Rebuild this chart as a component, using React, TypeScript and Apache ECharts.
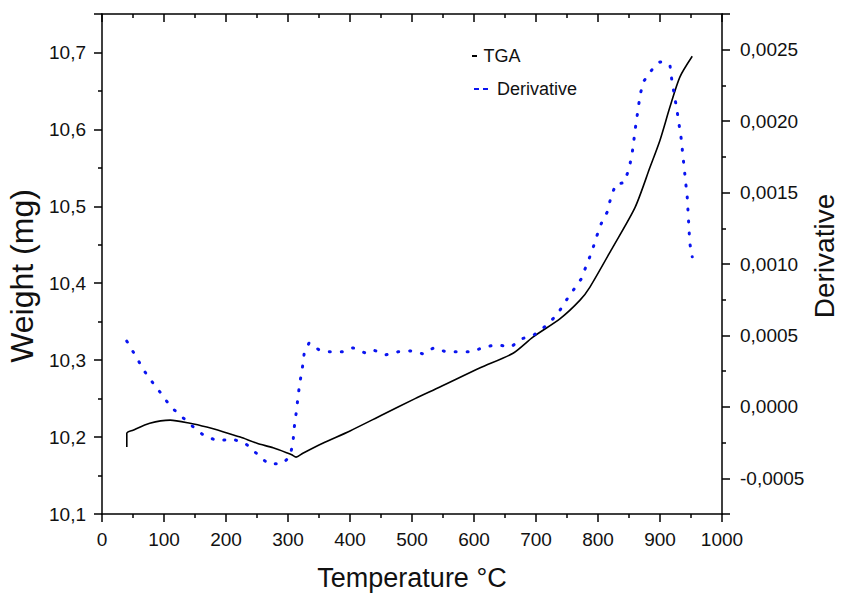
import React, { useEffect, useRef } from "react";
import * as echarts from "echarts";

// TGA curve (temperature °C, weight mg)
const tgaTemp = [40, 40, 50, 77, 110, 142, 169, 195, 223, 250, 276, 300, 306, 313, 324, 356, 400, 450, 505, 545, 610, 663, 695, 739, 771, 787, 824, 860, 884, 900, 916, 932, 952];
const tgaWeight = [10.187, 10.205, 10.209, 10.218, 10.222, 10.218, 10.213, 10.207, 10.2, 10.192, 10.186, 10.179, 10.177, 10.174, 10.179, 10.192, 10.208, 10.228, 10.25, 10.265, 10.29, 10.309, 10.33, 10.354, 10.378, 10.395, 10.447, 10.499, 10.551, 10.586, 10.629, 10.668, 10.695];

// Derivative curve
const derivTemp = [40, 56, 68, 82, 97, 111, 129, 147, 165, 187, 210, 232, 250, 268, 290, 303, 308, 310, 313, 316, 319, 323, 326, 334, 350, 368, 387, 405, 424, 437, 458, 477, 497, 518, 535, 555, 574, 598, 616, 637, 660, 677, 697, 718, 735, 747, 773, 781, 790, 797, 805, 815, 821, 829, 842, 850, 855, 861, 868, 873, 887, 900, 916, 919, 927, 934, 939, 944, 948, 952];
const derivValue = [0.00046, 0.000343, 0.000252, 0.000168, 0.000084, 0.0, -0.00007, -0.00014, -0.000203, -0.000238, -0.000224, -0.000259, -0.000329, -0.000399, -0.000399, -0.00035, -0.000252, -0.000147, -0.000049, 0.000063, 0.000168, 0.000266, 0.000371, 0.000448, 0.000399, 0.000385, 0.000385, 0.000413, 0.000378, 0.000399, 0.000364, 0.000385, 0.000392, 0.000371, 0.000413, 0.000385, 0.000385, 0.000385, 0.00042, 0.000434, 0.00042, 0.000476, 0.000504, 0.000574, 0.000651, 0.000735, 0.000896, 0.000987, 0.001085, 0.001183, 0.001281, 0.001365, 0.00147, 0.001561, 0.001568, 0.001666, 0.001771, 0.001974, 0.002184, 0.002275, 0.00236, 0.002415, 0.002394, 0.002289, 0.002086, 0.001883, 0.001673, 0.001463, 0.001148, 0.00105];

const xTicks = { min: 0, max: 1000, interval: 100 };
const weightAxis = { min: 10.1, max: 10.75, interval: 0.1 };
const derivAxis = { min: -0.00075, max: 0.00275, step: 0.0005 };

const FONT = "'Liberation Sans', Arial, sans-serif";

export default function App() {
  const ref = useRef<HTMLDivElement>(null);
  useEffect(() => {
    if (!ref.current) return;
    const chart = echarts.init(ref.current, null, { renderer: "svg" });
    const axisLine = { show: true, onZero: false, lineStyle: { color: "#000", width: 1.5 } };
    const tick = { show: true, length: 8, lineStyle: { color: "#000", width: 1.5 } };
    const minor = { show: true, splitNumber: 2, length: 4, lineStyle: { color: "#000", width: 1.5 } };
    const isMult = (v: number, s: number) => Math.abs(v / s - Math.round(v / s)) < 1e-6;
    chart.setOption({
      animation: false,
      backgroundColor: "#fff",
      grid: { left: 102, right: 119, top: 14, bottom: 81, containLabel: false, outerBoundsMode: "none" },
      legend: [
        {
          left: 472, top: 47, padding: 0, orient: "vertical",
          itemWidth: 6, itemHeight: 2,
          data: [{ name: "TGA", icon: "path://M0,0h5v2h-5z" }],
          textStyle: { fontFamily: FONT, fontSize: 18, color: "#111", padding: [0, 0, 0, 1] },
        },
        {
          left: 474, top: 80, padding: 0, orient: "vertical",
          itemWidth: 14, itemHeight: 2.5,
          data: [{ name: "Derivative", icon: "path://M0,0h5v2h-5zM9,0h5v2h-5z" }],
          textStyle: { fontFamily: FONT, fontSize: 18, color: "#111", padding: [0, 0, 0, 4] },
        },
      ],
      xAxis: [
        {
          type: "value", ...xTicks, position: "bottom",
          name: "Temperature °C", nameLocation: "middle", nameGap: 50,
          nameTextStyle: { fontFamily: FONT, fontSize: 27, color: "#111" },
          axisLine, axisTick: tick, minorTick: minor, splitLine: { show: false },
          axisLabel: {
            fontFamily: FONT, fontSize: 19, color: "#111", margin: 16,
            formatter: (v: number) => String(Math.round(v)),
          },
        },
        {
          type: "value", ...xTicks, position: "top",
          axisLine, axisTick: { ...tick, inside: true }, minorTick: minor,
          splitLine: { show: false }, axisLabel: { show: false },
        },
      ],
      yAxis: [
        {
          type: "value", ...weightAxis, position: "left",
          name: "Weight (mg)", nameLocation: "middle", nameGap: 60, nameRotate: 90,
          nameTextStyle: { fontFamily: FONT, fontSize: 32, color: "#111", padding: [0, 24, 0, 0] },
          axisLine, axisTick: tick, minorTick: minor, splitLine: { show: false },
          axisLabel: {
            fontFamily: FONT, fontSize: 19, color: "#111", margin: 16,
            formatter: (v: number) => (isMult(v, 0.1) ? v.toFixed(1).replace(".", ",") : ""),
          },
        },
        {
          type: "value", min: derivAxis.min, max: derivAxis.max, splitNumber: 7, position: "right",
          name: "Derivative", nameLocation: "middle", nameGap: 88, nameRotate: 90, nameMoveOverlap: false,
          nameTextStyle: { fontFamily: FONT, fontSize: 28, lineHeight: 28, color: "#111", padding: [0, 0, 0, 16] },
          axisLine, axisTick: tick, minorTick: minor, splitLine: { show: false },
          axisLabel: {
            fontFamily: FONT, fontSize: 19, color: "#111", margin: 18,
            formatter: (v: number) => {
              if (!isMult(v, derivAxis.step)) return "";
              let r = Math.round(v / derivAxis.step) * derivAxis.step;
              if (Math.abs(r) < 1e-12) r = 0;
              return r.toFixed(4).replace(".", ",");
            },
          },
        },
      ],
      series: [
        {
          name: "TGA", type: "line", xAxisIndex: 0, yAxisIndex: 0,
          data: tgaTemp.map((t, i) => [t, tgaWeight[i]]),
          showSymbol: false, symbol: "none", smooth: 0.25,
          lineStyle: { color: "#000", width: 1.6 },
          itemStyle: { color: "#000" },
        },
        {
          name: "Derivative", type: "line", xAxisIndex: 0, yAxisIndex: 1,
          data: derivTemp.map((t, i) => [t, derivValue[i]]),
          showSymbol: false, symbol: "none",
          lineStyle: { color: "#0a14f0", width: 3, type: [1, 11], cap: "round" },
          itemStyle: { color: "#0a14f0" },
        },
      ],
    });
    return () => chart.dispose();
  }, []);
  return (
    <div
      ref={ref}
      style={{ position: "fixed", left: 0, top: 0, width: 841, height: 595, background: "#fff" }}
    />
  );
}
